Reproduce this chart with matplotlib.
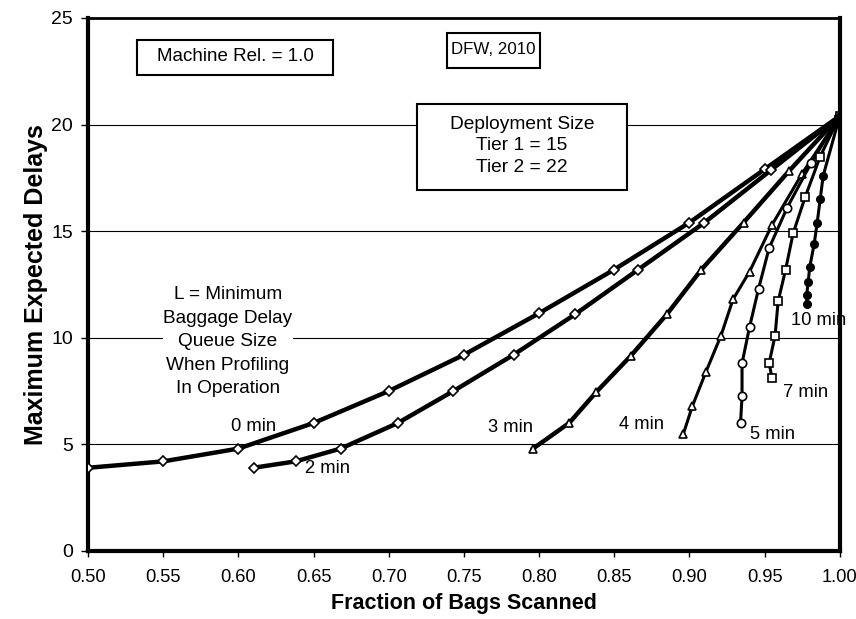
import numpy as np
import matplotlib
matplotlib.use('Agg')
import matplotlib.pyplot as plt
from matplotlib.patches import Rectangle

plt.rcParams['font.family'] = ['Liberation Sans', 'DejaVu Sans']

# Daten
x_0min = [0.50, 0.55, 0.60, 0.65, 0.70, 0.75, 0.80, 0.85, 0.90, 0.95, 1.00]
y_0min = [3.9, 4.2, 4.8, 6.0, 7.5, 9.2, 11.15, 13.2, 15.4, 17.9, 20.4]

x_2min = [0.610, 0.638, 0.668, 0.706, 0.743, 0.783, 0.824, 0.866, 0.910, 0.954, 1.00]
y_2min = [3.9, 4.2, 4.8, 6.0, 7.5, 9.2, 11.1, 13.2, 15.4, 17.85, 20.4]

x_3min = [0.796, 0.820, 0.838, 0.861, 0.885, 0.908, 0.936, 0.966, 1.00]
y_3min = [4.8, 6.0, 7.45, 9.15, 11.1, 13.2, 15.4, 17.8, 20.4]

x_4min = [0.896, 0.902, 0.911, 0.921, 0.929, 0.940, 0.955, 0.975, 1.00]
y_4min = [5.5, 6.8, 8.4, 10.1, 11.8, 13.1, 15.3, 17.7, 20.4]

x_5min = [0.934, 0.935, 0.935, 0.940, 0.946, 0.953, 0.965, 0.981, 1.00]
y_5min = [6.0, 7.25, 8.8, 10.5, 12.3, 14.2, 16.1, 18.2, 20.4]

x_7min = [0.955, 0.953, 0.957, 0.959, 0.964, 0.969, 0.977, 0.987, 1.00]
y_7min = [8.1, 8.8, 10.1, 11.7, 13.2, 14.9, 16.6, 18.5, 20.4]

x_10min = [0.978, 0.978, 0.979, 0.980, 0.983, 0.985, 0.987, 0.989, 1.00]
y_10min = [11.6, 12.0, 12.6, 13.3, 14.4, 15.4, 16.5, 17.6, 20.4]

fig = plt.figure(figsize=(8.56, 6.19), dpi=100)
ax = fig.add_axes([0.103, 0.110, 0.878, 0.861])

for yy in [5, 10, 15, 20]:
    ax.axhline(yy, color='black', lw=0.8, zorder=1)

ax.plot(x_0min, y_0min, '-D', color='black', lw=3.2, ms=5, mfc='white', mew=1.2, zorder=3)
ax.plot(x_2min, y_2min, '-D', color='black', lw=3.2, ms=5, mfc='white', mew=1.2, zorder=3)
ax.plot(x_3min, y_3min, '-^', color='black', lw=3.2, ms=6, mfc='white', mew=1.2, zorder=3)
ax.plot(x_4min, y_4min, '-^', color='black', lw=2.2, ms=6, mfc='white', mew=1.2, zorder=3)
ax.plot(x_5min, y_5min, '-o', color='black', lw=2.2, ms=6, mfc='white', mew=1.2, zorder=3)
ax.plot(x_7min, y_7min, '-s', color='black', lw=2.2, ms=6, mfc='white', mew=1.2, zorder=3)
ax.plot(x_10min, y_10min, '-o', color='black', lw=2.2, ms=5.5, mfc='black', mew=1.0, zorder=3)

fs = 13.2
ax.text(0.610, 5.85, '0 min', fontsize=fs, ha='center', va='center')
ax.text(0.659, 3.85, '2 min', fontsize=fs, ha='center', va='center')
ax.text(0.781, 5.8, '3 min', fontsize=fs, ha='center', va='center')
ax.text(0.868, 5.95, '4 min', fontsize=fs, ha='center', va='center')
ax.text(0.955, 5.45, '5 min', fontsize=fs, ha='center', va='center')
ax.text(0.977, 7.45, '7 min', fontsize=fs, ha='center', va='center')
ax.text(0.986, 10.8, '10 min', fontsize=fs, ha='center', va='center')

ax.text(0.593, 9.8, 'L = Minimum\nBaggage Delay\nQueue Size\nWhen Profiling\nIn Operation',
        fontsize=13.7, ha='center', va='center', linespacing=1.5, zorder=4,
        bbox=dict(facecolor='white', edgecolor='none', pad=0))

# Rahmen der Textfelder (Achsenanteile)
for bx, by, bw, bh in [(0.065, 0.893, 0.261, 0.066),
                       (0.477, 0.906, 0.124, 0.066),
                       (0.4375, 0.677, 0.279, 0.161)]:
    ax.add_patch(Rectangle((bx, by), bw, bh, transform=ax.transAxes, facecolor='white',
                           edgecolor='black', lw=1.5, zorder=5))

ax.text(0.598, 23.2, 'Machine Rel. = 1.0', fontsize=13.5, ha='center', va='center', zorder=6)
ax.text(0.7696, 23.5, 'DFW, 2010', fontsize=12.2, ha='center', va='center', zorder=6)
ax.text(0.7886, 19.0, 'Deployment Size\nTier 1 = 15\nTier 2 = 22', fontsize=13.8,
        ha='center', va='center', linespacing=1.35, zorder=6)

ax.set_xlim(0.50, 1.00)
ax.set_ylim(0, 25)
ax.set_xticks(np.arange(0.50, 1.001, 0.05))
ax.set_xticklabels(['%.2f' % v for v in np.arange(0.50, 1.001, 0.05)])
ax.set_yticks([0, 5, 10, 15, 20, 25])
ax.tick_params(axis='x', labelsize=13.2, length=4, width=1, direction='out', pad=9)
ax.tick_params(axis='y', labelsize=14, length=5, width=1, direction='out', pad=6)

for side in ['left', 'bottom', 'right']:
    ax.spines[side].set_linewidth(3)
ax.spines['top'].set_linewidth(2)

ax.set_xlabel('Fraction of Bags Scanned', fontsize=15.5, fontweight='bold', labelpad=5)
ax.set_ylabel('Maximum Expected Delays', fontsize=18, fontweight='bold', labelpad=2)

fig.savefig('out.png', dpi=100)
